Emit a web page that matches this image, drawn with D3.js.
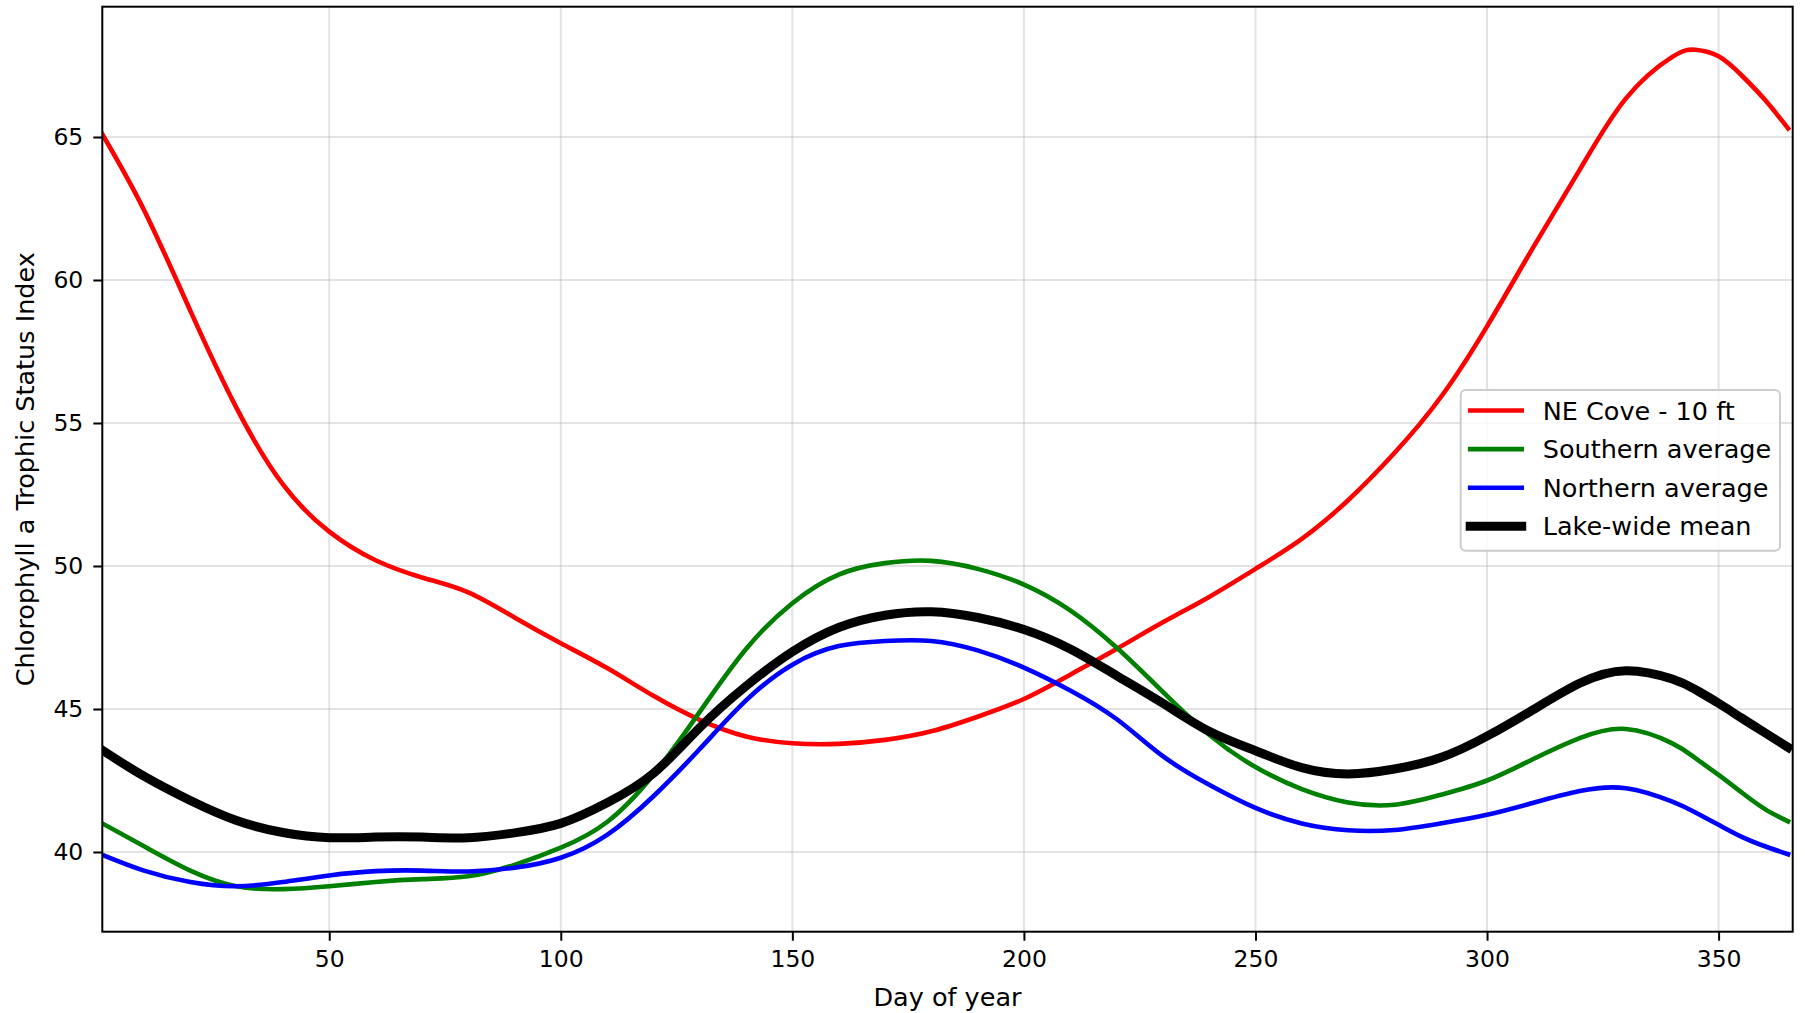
<!DOCTYPE html>
<html>
<head>
<meta charset="utf-8">
<script src="https://cdn.jsdelivr.net/npm/d3@7"></script>
<style>
  body { margin: 0; background: #fff; }
  text { font-family: "DejaVu Sans", sans-serif; fill: #000; }
</style>
</head>
<body>
<div id="chart"></div>
<script>
const days = [1, 10, 20, 30, 40, 50, 60, 70, 80, 90, 100, 110, 120, 130, 140, 150, 160, 170, 180, 190,
  200, 210, 220, 230, 240, 250, 260, 270, 280, 290, 300, 310, 320, 330, 340, 345, 350, 355, 360, 365];

const neCove = [65.1, 62.45, 58.93, 55.52, 52.85, 51.2, 50.2, 49.6, 49.08, 48.2, 47.3, 46.43, 45.46, 44.62, 44.04, 43.8, 43.78, 43.92, 44.22, 44.73,
  45.35, 46.2, 47.1, 48.03, 48.92, 49.9, 50.95, 52.3, 53.95, 55.9, 58.38, 61.15, 63.85, 66.35, 67.8, 68.05, 67.82, 67.15, 66.3, 65.3];

const southern = [41.0, 40.2, 39.35, 38.8, 38.7, 38.8, 38.95, 39.05, 39.15, 39.55, 40.15, 41.05, 42.7, 44.9, 47.1, 48.7, 49.7, 50.1, 50.18, 49.9,
  49.35, 48.45, 47.15, 45.6, 44.1, 42.97, 42.2, 41.73, 41.65, 42.0, 42.5, 43.25, 43.98, 44.3, 43.8, 43.28, 42.7, 42.08, 41.5, 41.07];

const northern = [39.9, 39.35, 38.95, 38.8, 38.95, 39.18, 39.33, 39.35, 39.32, 39.45, 39.8, 40.6, 41.95, 43.6, 45.3, 46.55, 47.2, 47.38, 47.38, 47.05,
  46.45, 45.65, 44.65, 43.35, 42.35, 41.54, 41.0, 40.76, 40.77, 41.0, 41.3, 41.72, 42.13, 42.23, 41.76, 41.38, 40.95, 40.53, 40.2, 39.92];

const lakeMean = [43.56, 42.65, 41.8, 41.1, 40.68, 40.5, 40.52, 40.52, 40.5, 40.67, 41.0, 41.72, 42.75, 44.35, 45.8, 47.0, 47.85, 48.28, 48.4, 48.2,
  47.78, 47.1, 46.17, 45.2, 44.22, 43.54, 42.95, 42.73, 42.9, 43.3, 44.05, 44.98, 45.9, 46.34, 46.05, 45.68, 45.2, 44.68, 44.17, 43.66];

const seriesNames = ['NE Cove - 10 ft', 'Southern average', 'Northern average', 'Lake-wide mean'];
const seriesColors = ['#ff0000', '#008000', '#0000ff', '#000000'];
const seriesWidths = [4.6, 4.6, 4.6, 9];
const xTicks = [50, 100, 150, 200, 250, 300, 350];
const yTicks = [40, 45, 50, 55, 60, 65];

const width = 1805;
const height = 1013;
const margin = { top: 6.7, right: 12.3, bottom: 81.3, left: 102.3 };

const svg = d3.select('#chart').append('svg')
    .attr('width', width)
    .attr('height', height);

const xScale = d3.scaleLinear()
    .domain([1, 366])
    .range([margin.left, width - margin.right]);

const yScale = d3.scaleLinear()
    .domain([37.213, 69.556])
    .range([height - margin.bottom, margin.top]);

// grid
svg.append('g')
    .selectAll('line')
    .data(xTicks)
    .enter().append('line')
    .attr('x1', d => xScale(d)).attr('x2', d => xScale(d))
    .attr('y1', margin.top).attr('y2', height - margin.bottom)
    .attr('stroke', '#b0b0b0').attr('stroke-opacity', 0.35).attr('stroke-width', 2);

svg.append('g')
    .selectAll('line')
    .data(yTicks)
    .enter().append('line')
    .attr('x1', margin.left).attr('x2', width - margin.right)
    .attr('y1', d => yScale(d)).attr('y2', d => yScale(d))
    .attr('stroke', '#b0b0b0').attr('stroke-opacity', 0.35).attr('stroke-width', 2);

// curves
svg.append('clipPath').attr('id', 'plot-clip')
    .append('rect')
    .attr('x', margin.left).attr('y', margin.top)
    .attr('width', width - margin.left - margin.right)
    .attr('height', height - margin.top - margin.bottom);

const line = d3.line()
    .x(d => xScale(d[0]))
    .y(d => yScale(d[1]))
    .curve(d3.curveNatural);

const allSeries = [neCove, southern, northern, lakeMean];

svg.append('g')
    .attr('clip-path', 'url(#plot-clip)')
    .selectAll('path')
    .data(allSeries)
    .enter().append('path')
    .attr('d', vals => line(days.map((d, i) => [d, vals[i]])))
    .attr('fill', 'none')
    .attr('stroke', (d, i) => seriesColors[i])
    .attr('stroke-width', (d, i) => seriesWidths[i])
    .attr('stroke-linecap', 'square')
    .attr('stroke-linejoin', 'round');

// axes
const xAxis = svg.append('g')
    .attr('transform', `translate(0,${height - margin.bottom})`)
    .call(d3.axisBottom(xScale).tickValues(xTicks).tickSize(9).tickPadding(10).tickSizeOuter(0));

const yAxis = svg.append('g')
    .attr('transform', `translate(${margin.left},0)`)
    .call(d3.axisLeft(yScale).tickValues(yTicks).tickSize(9).tickPadding(10).tickSizeOuter(0));

[xAxis, yAxis].forEach(ax => {
  ax.select('.domain').remove();
  ax.selectAll('.tick line').attr('stroke', '#000').attr('stroke-width', 2);
  ax.selectAll('.tick text').style('font-size', '23.5px').style('font-family', '"DejaVu Sans", sans-serif').attr('fill', '#000');
});

// frame
svg.append('rect')
    .attr('x', margin.left).attr('y', margin.top)
    .attr('width', width - margin.left - margin.right)
    .attr('height', height - margin.top - margin.bottom)
    .attr('fill', 'none')
    .attr('stroke', '#000')
    .attr('stroke-width', 2);

// axis labels
svg.append('text')
    .attr('x', (margin.left + width - margin.right) / 2)
    .attr('y', 1006)
    .attr('text-anchor', 'middle')
    .style('font-size', '25.5px')
    .text('Day of year');

svg.append('text')
    .attr('transform', `translate(34,${(margin.top + height - margin.bottom) / 2}) rotate(-90)`)
    .attr('text-anchor', 'middle')
    .style('font-size', '25.5px')
    .text('Chlorophyll a Trophic Status Index');

// legend
const legend = svg.append('g').attr('transform', 'translate(1460.7,390)');

legend.append('rect')
    .attr('width', 319.3).attr('height', 160.7)
    .attr('rx', 5).attr('ry', 5)
    .attr('fill', '#fff').attr('fill-opacity', 0.8)
    .attr('stroke', '#cccccc').attr('stroke-width', 2);

const rows = legend.selectAll('.legend-row')
    .data(seriesNames)
    .enter().append('g')
    .attr('class', 'legend-row')
    .attr('transform', (d, i) => `translate(0,${20.5 + i * 38.6})`);

rows.append('line')
    .attr('x1', 9.5).attr('x2', 61)
    .attr('stroke', (d, i) => seriesColors[i])
    .attr('stroke-width', (d, i) => seriesWidths[i])
    .attr('stroke-linecap', 'square');

rows.append('text')
    .attr('x', 82)
    .attr('y', 9)
    .style('font-size', '25.5px')
    .text(d => d);
</script>
</body>
</html>
